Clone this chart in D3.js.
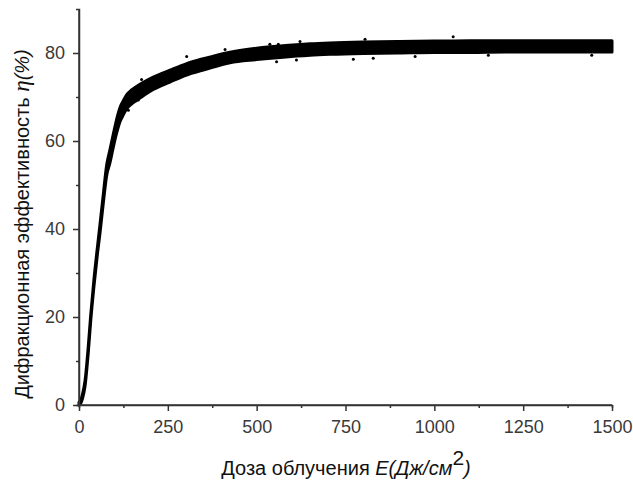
<!DOCTYPE html>
<html><head><meta charset="utf-8">
<script src="https://cdn.jsdelivr.net/npm/d3@7"></script>
<style>
html,body{margin:0;padding:0;background:#fff;}
svg{display:block;}
text{font-family:"Liberation Sans",Arial,sans-serif;}
</style></head>
<body>
<svg id="chart" width="633" height="483"></svg>
<script>
// Data
const dose  = [0, 5, 10, 17, 26, 33, 42, 52, 59, 68, 78, 87, 95, 101, 108, 115, 125, 134, 148, 162, 185, 209, 256, 303, 350, 425, 500, 566, 650, 706, 800, 900, 1000, 1100, 1200, 1300, 1400, 1500];
const upper = [0.6, 1.2, 2.5, 5.5, 13.2, 20.5, 28.5, 36.0, 41.0, 47.6, 54.6, 58.0, 61.0, 63.2, 65.6, 67.5, 69.2, 70.5, 71.6, 72.4, 73.5, 74.5, 76.1, 77.6, 78.7, 80.2, 81.1, 81.6, 82.1, 82.3, 82.5, 82.6, 82.7, 82.8, 82.8, 82.8, 82.8, 82.8];
const lower = [0.0, 0.4, 1.5, 4.3, 11.8, 19.1, 26.9, 34.4, 39.0, 45.6, 52.2, 55.0, 58.0, 60.2, 62.4, 64.3, 66.0, 67.3, 68.4, 69.2, 70.5, 71.7, 73.4, 75.0, 76.1, 77.8, 78.5, 79.0, 79.5, 79.7, 79.9, 80.0, 80.1, 80.1, 80.2, 80.2, 80.2, 80.2];
const outlierX = [120, 139, 167, 176, 303, 411, 537, 561, 622, 805, 556, 612, 772, 828, 946, 1053, 1152, 1443];
const outlierY = [68.2, 67.0, 69.3, 74.0, 79.2, 80.8, 82.0, 82.0, 82.6, 83.1, 78.0, 78.4, 78.6, 78.8, 79.2, 83.7, 79.5, 79.5];
const xTicks = [0, 250, 500, 750, 1000, 1250, 1500];
const xMinor = [125, 375, 625, 875, 1125, 1375];
const yTicks = [0, 20, 40, 60, 80];
const yMinor = [10, 30, 50, 70];

const svg = d3.select("#chart");
const x = d3.scaleLinear().domain([0, 1500]).range([79, 612]);
const y = d3.scaleLinear().domain([0, 90]).range([405, 9]);
const axisColor = "#333";

// band
const pts = dose.map((d, i) => ({d, u: upper[i], l: lower[i]}));
const area = d3.area().x(p => x(p.d)).y0(p => y(p.l)).y1(p => y(p.u)).curve(d3.curveMonotoneX);
svg.append("path").datum(pts).attr("d", area)
  .attr("fill", "#000").attr("stroke", "#000").attr("stroke-width", 3).attr("stroke-linejoin", "round");

svg.append("g").selectAll("circle").data(outlierX).join("circle")
  .attr("cx", (d) => x(d)).attr("cy", (d, i) => y(outlierY[i])).attr("r", 1.5).attr("fill", "#000");

// axes
const gx = svg.append("g").attr("transform", `translate(0,${y(0)})`)
  .call(d3.axisBottom(x).tickValues(xTicks).tickSize(6).tickPadding(9).tickFormat(d3.format("d")));
const gxm = svg.append("g").attr("transform", `translate(0,${y(0)})`)
  .call(d3.axisBottom(x).tickValues(xMinor).tickSize(3).tickFormat(""));
const gy = svg.append("g").attr("transform", `translate(${x(0)},0)`)
  .call(d3.axisLeft(y).tickValues(yTicks).tickSize(6).tickPadding(8).tickFormat(d3.format("d")));
const gym = svg.append("g").attr("transform", `translate(${x(0)},0)`)
  .call(d3.axisLeft(y).tickValues(yMinor).tickSize(3).tickFormat(""));
[gx, gxm, gy, gym].forEach(g => {
  g.select(".domain").attr("stroke", axisColor).attr("stroke-width", 1.5);
  g.selectAll(".tick line").attr("stroke", axisColor).attr("stroke-width", 1.5);
  g.selectAll(".tick text").attr("fill", "#3a3a3a").attr("font-size", 18).attr("font-family", "Liberation Sans, Arial, sans-serif");
});
gx.select(".domain").attr("d", `M${x(0)},0H${x(1500)}`);
gy.select(".domain").attr("d", `M0,${y(0)}V${y(90)}`);

// axis titles
const xt = svg.append("text").attr("x", 346).attr("y", 475).attr("text-anchor", "middle")
  .attr("font-size", 20).attr("fill", "#111");
xt.append("tspan").text("Доза облучения ");
xt.append("tspan").attr("font-style", "italic").text("E(Дж/см");
xt.append("tspan").attr("dy", -10).attr("font-size", 21).text("2");
xt.append("tspan").attr("dy", 10).attr("font-style", "italic").text(")");

const yt = svg.append("text").attr("transform", "translate(29,224) rotate(-90)").attr("text-anchor", "middle")
  .attr("font-size", 20).attr("fill", "#111");
yt.append("tspan").text("Дифракционная эффективность ");
yt.append("tspan").attr("font-style", "italic").attr("font-family", "Liberation Serif, serif").attr("font-size", 23).text("η");
yt.append("tspan").attr("font-style", "italic").text("(%)");
</script>
</body></html>
